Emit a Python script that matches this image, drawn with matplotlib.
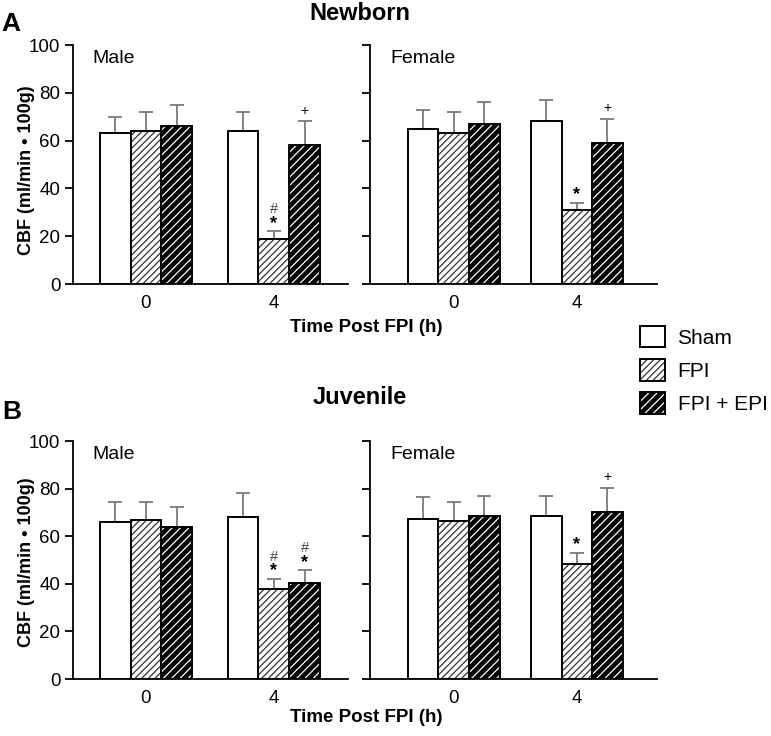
import numpy as np
import matplotlib.pyplot as plt
from matplotlib.patches import Patch

plt.rcParams['font.family'] = ['Liberation Sans', 'DejaVu Sans']
plt.rcParams['hatch.linewidth'] = 0.9

# Data: CBF (ml/min * 100g), mean and upper error, at 0 h and 4 h post FPI
times = ['0', '4']
series = ['Sham', 'FPI', 'FPI + EPI']

nb_male_mean = {'Sham': [63, 64], 'FPI': [64, 19], 'FPI + EPI': [66, 58]}
nb_male_err = {'Sham': [7, 8], 'FPI': [8, 3], 'FPI + EPI': [9, 10]}
nb_female_mean = {'Sham': [65, 68], 'FPI': [63, 31], 'FPI + EPI': [67, 59]}
nb_female_err = {'Sham': [8, 9], 'FPI': [9, 3], 'FPI + EPI': [9, 10]}
juv_male_mean = {'Sham': [66, 68], 'FPI': [67, 38], 'FPI + EPI': [64, 40.4]}
juv_male_err = {'Sham': [8.5, 10], 'FPI': [7.5, 4.2], 'FPI + EPI': [8.2, 5.2]}
juv_female_mean = {'Sham': [67.3, 68.3], 'FPI': [66.2, 48.3], 'FPI + EPI': [68.3, 70.3]}
juv_female_err = {'Sham': [9, 8.7], 'FPI': [8.3, 4.8], 'FPI + EPI': [8.7, 10]}

# significance marks: (time index, series, symbols from bottom to top)
nb_male_marks = [(1, 'FPI', ['*', '#']), (1, 'FPI + EPI', ['+'])]
nb_female_marks = [(1, 'FPI', ['*']), (1, 'FPI + EPI', ['+'])]
juv_male_marks = [(1, 'FPI', ['*', '#']), (1, 'FPI + EPI', ['*', '#'])]
juv_female_marks = [(1, 'FPI', ['*']), (1, 'FPI + EPI', ['+'])]

W, H = 771, 736
fig = plt.figure(figsize=(W / 100, H / 100), dpi=100)


def px_axes(x0, x1, ytop, ybot):
    return fig.add_axes([x0 / W, 1 - ybot / H, (x1 - x0) / W, (ybot - ytop) / H])


def draw_panel(ax, means, errs, marks, sex, xlim, bw, show_labels):
    x = np.arange(len(times))
    for i, s in enumerate(series):
        xs = x + (i - 1) * bw
        m = np.array(means[s])
        e = np.array(errs[s])
        ax.errorbar(xs, m, yerr=[np.zeros_like(e), e], fmt='none', ecolor='#7a7a7a',
                    elinewidth=1.3, capsize=5, capthick=1.3, zorder=1)
        if s == 'Sham':
            ax.bar(xs, m, bw, color='white', edgecolor='black', linewidth=1.4, zorder=2)
        elif s == 'FPI':
            ax.bar(xs, m, bw, color='white', edgecolor='#333333', hatch='/////',
                   linewidth=0, zorder=2)
            ax.bar(xs, m, bw, fill=False, edgecolor='black', linewidth=1.4, zorder=3)
        else:
            ax.bar(xs, m, bw, color='black', edgecolor='white', hatch='////',
                   linewidth=0, zorder=2)
            ax.bar(xs, m, bw, fill=False, edgecolor='black', linewidth=1.4, zorder=3)
    for t, s, syms in marks:
        i = series.index(s)
        top = means[s][t] + errs[s][t]
        xm = x[t] + (i - 1) * bw
        for sym in syms:
            if sym == '*':
                off, fs, fw, col = 2.5, 13, 'bold', 'black'
            elif sym == '+':
                off, fs, fw, col = 5, 10, 'normal', 'black'
            else:
                off, fs, fw, col = 13, 10.5, 'normal', '#444444'
            ax.annotate(sym, xy=(xm, top), xytext=(0, off), textcoords='offset points',
                        ha='center', va='baseline', fontsize=fs, fontweight=fw, color=col)
    ax.set_xlim(*xlim)
    ax.set_ylim(0, 100)
    ax.set_yticks([0, 20, 40, 60, 80, 100])
    ax.set_xticks(x)
    ax.set_xticklabels(times)
    ax.tick_params(axis='x', length=0, pad=8, labelsize=13.5)
    ax.tick_params(axis='y', direction='out', length=6, width=1.3, labelsize=13.5,
                   labelleft=show_labels, pad=3)
    for sp in ['top', 'right']:
        ax.spines[sp].set_visible(False)
    for sp in ['left', 'bottom']:
        ax.spines[sp].set_linewidth(1.3)
    ax.text(0.07, 0.945, sex, transform=ax.transAxes, fontsize=14, va='center')


axA1 = px_axes(73, 348, 45, 284)
axA2 = px_axes(370, 657, 45, 284)
axB1 = px_axes(73, 348, 441, 679)
axB2 = px_axes(370, 657, 441, 679)

draw_panel(axA1, nb_male_mean, nb_male_err, nb_male_marks, 'Male', (-0.57, 1.58), 0.24, True)
draw_panel(axA2, nb_female_mean, nb_female_err, nb_female_marks, 'Female', (-0.68, 1.65), 0.248, False)
draw_panel(axB1, juv_male_mean, juv_male_err, juv_male_marks, 'Male', (-0.57, 1.58), 0.24, True)
draw_panel(axB2, juv_female_mean, juv_female_err, juv_female_marks, 'Female', (-0.68, 1.65), 0.248, False)

# titles, panel letters, axis labels
fig.text(360 / W, 1 - 14 / H, 'Newborn', ha='center', va='center', fontsize=17, fontweight='bold')
fig.text(360 / W, 1 - 398 / H, 'Juvenile', ha='center', va='center', fontsize=17, fontweight='bold')
fig.text(11 / W, 1 - 24 / H, 'A', ha='center', va='center', fontsize=19, fontweight='bold')
fig.text(12 / W, 1 - 412 / H, 'B', ha='center', va='center', fontsize=19, fontweight='bold')
for yc in [170, 562]:
    fig.text(27 / W, 1 - yc / H, 'CBF (ml/min \u2022 100g)', rotation=90, ha='center',
             va='center', fontsize=13, fontweight='bold')
for yc in [328, 718]:
    fig.text(366 / W, 1 - yc / H, 'Time Post FPI (h)', ha='center', va='center',
             fontsize=13.5, fontweight='bold')

# legend
h_sham = Patch(facecolor='white', edgecolor='black', linewidth=1.4)
h_fpi = (Patch(facecolor='white', edgecolor='#333333', hatch='/////', linewidth=0),
         Patch(fill=False, edgecolor='black', linewidth=1.4))
h_epi = (Patch(facecolor='black', edgecolor='white', hatch='////', linewidth=0),
         Patch(fill=False, edgecolor='black', linewidth=1.4))
fig.legend([h_sham, h_fpi, h_epi], series, loc='upper left',
           bbox_to_anchor=(640 / W, 1 - 326 / H), frameon=False, fontsize=15,
           handlelength=1.2, handleheight=1.2, labelspacing=0.55, handletextpad=0.6,
           borderpad=0, borderaxespad=0)

fig.savefig('out.png', dpi=100)
